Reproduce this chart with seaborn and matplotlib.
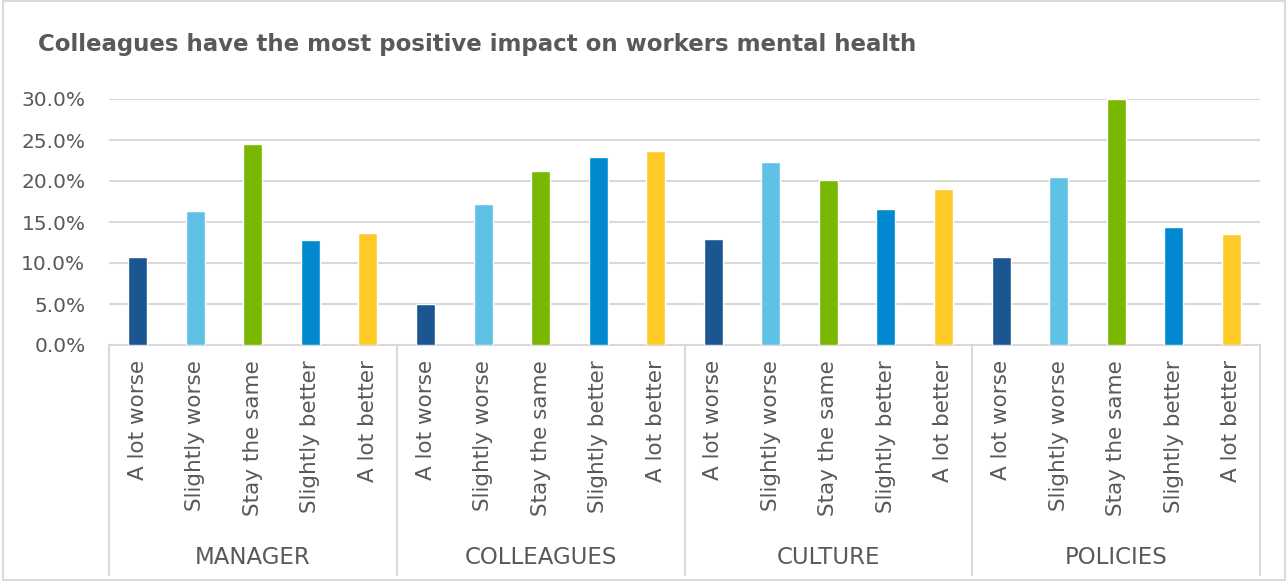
import matplotlib
matplotlib.use("Agg")
import matplotlib.pyplot as plt
import matplotlib.transforms as mtransforms
from matplotlib.patches import Rectangle
from matplotlib.ticker import PercentFormatter
import seaborn as sns
import pandas as pd

groups = ["MANAGER", "COLLEAGUES", "CULTURE", "POLICIES"]
responses = ["A lot worse", "Slightly worse", "Stay the same", "Slightly better", "A lot better"]
manager = [10.7, 16.3, 24.5, 12.8, 13.6]
colleagues = [5.0, 17.2, 21.2, 22.9, 23.6]
culture = [12.9, 22.3, 20.1, 16.6, 19.0]
policies = [10.7, 20.5, 30.0, 14.4, 13.5]
colors = ["#1B5693", "#5FC1E6", "#7AB800", "#0089D1", "#FFCA28"]
title = "Colleagues have the most positive impact on workers mental health"

values = [manager, colleagues, culture, policies]
rows = []
for g, vals in zip(groups, values):
    for r, v in zip(responses, vals):
        rows.append({"key": f"{g}|{r}", "group": g, "response": r, "value": v})
df = pd.DataFrame(rows)

sns.set_theme(style="white")
plt.rcParams["font.family"] = ["DejaVu Sans"]
text_color = "#595959"
grid_color = "#D9D9D9"

fig = plt.figure(figsize=(12.88, 5.81), dpi=100)
ax = fig.add_axes([109/1288, 1-345/581, (1260-109)/1288, (345-99)/581])

sns.barplot(data=df, x="key", y="value", hue="response", hue_order=responses,
            palette=colors, saturation=1, dodge=False, width=0.33, legend=False,
            ax=ax, zorder=3)

ax.set_ylim(0, 30)
ax.set_xlim(-0.5, len(df) - 0.5)
ax.set_yticks([0, 5, 10, 15, 20, 25, 30])
ax.yaxis.set_major_formatter(PercentFormatter(decimals=1))
ax.grid(axis="y", color=grid_color, linewidth=1.5, zorder=0)
ax.set_axisbelow(True)
for s in ["top", "right", "left"]:
    ax.spines[s].set_visible(False)
ax.spines["bottom"].set_color(grid_color)
ax.spines["bottom"].set_linewidth(1.5)
ax.set_xlabel("")
ax.set_ylabel("")
ax.tick_params(axis="y", labelsize=14.5, colors=text_color, length=0, pad=17)
ax.set_xticks(range(len(df)))
ax.set_xticklabels(df["response"].tolist(), rotation=90, fontsize=15.5, color=text_color)
ax.tick_params(axis="x", length=0, pad=11)

trans = mtransforms.blended_transform_factory(ax.transData, ax.transAxes)
n = len(responses)
bottom_y = -(575-345)/(345-99)
label_y = -(558-345)/(345-99)
for i, g in enumerate(groups):
    ax.text(i*n + (n-1)/2, label_y, g, transform=trans, ha="center", va="center",
            fontsize=16.5, color=text_color)
for i in range(len(groups)+1):
    ax.plot([i*n - 0.5, i*n - 0.5], [0, bottom_y], transform=trans, color=grid_color,
            linewidth=1.5, clip_on=False)

fig.text(38/1288, 1-45/581, title, ha="left", va="center", fontsize=16.5,
         fontweight="bold", color=text_color)
fig.patches.append(Rectangle((0.002, 0.002), 0.996, 0.996, transform=fig.transFigure,
                             fill=False, edgecolor=grid_color, linewidth=1.5))

fig.savefig("out.png", dpi=100)
